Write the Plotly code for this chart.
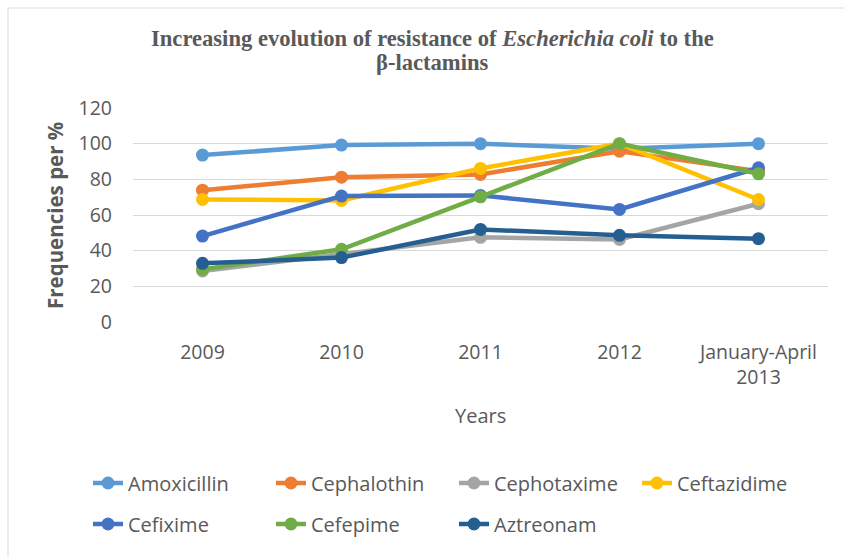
import plotly.graph_objects as go

# Study periods (x categories)
years = ["2009", "2010", "2011", "2012", "January-April<br>2013"]

# Resistance frequencies (%) per antibiotic
amoxicillin = [93.6, 99.2, 100, 97.1, 100]
cephalothin = [73.9, 81.2, 82.7, 95.8, 84.6]
cephotaxime = [28.6, 38.0, 47.5, 46.3, 66.3]
ceftazidime = [68.7, 68.2, 86.1, 100, 68.7]
cefixime = [48.2, 70.6, 71.0, 63.1, 86.5]
cefepime = [29.5, 40.8, 70.2, 100, 83.1]
aztreonam = [32.9, 36.1, 51.9, 48.6, 46.7]

# (name, values, colour, legend row)
series = [
    ("Amoxicillin", amoxicillin, "#5B9BD5", "legend"),
    ("Cephalothin", cephalothin, "#ED7D31", "legend"),
    ("Cephotaxime", cephotaxime, "#A5A5A5", "legend"),
    ("Ceftazidime", ceftazidime, "#FFC000", "legend"),
    ("Cefixime", cefixime, "#4472C4", "legend2"),
    ("Cefepime", cefepime, "#70AD47", "legend2"),
    ("Aztreonam", aztreonam, "#255E91", "legend2"),
]

TEXT = "#595959"
FONT = "Open Sans"

fig = go.Figure()
for name, vals, color, leg in series:
    fig.add_trace(go.Scatter(
        x=years, y=vals, name=name, mode="lines+markers",
        line=dict(color=color, width=4.5),
        marker=dict(color=color, size=13),
        legend=leg,
    ))

W, H = 844, 556
L, R, T, B = 133, 16, 108, 234
pw, ph = W - L - R, H - T - B


def px_x(p):
    return (p - L) / pw


def px_y(p):
    return (H - B - p) / ph


legend_style = dict(
    orientation="h", xanchor="left", yanchor="middle",
    entrywidth=138, entrywidthmode="pixels",
    font=dict(family=FONT, size=20, color=TEXT),
    traceorder="normal", itemclick=False, itemdoubleclick=False,
    bgcolor="rgba(0,0,0,0)",
)

fig.update_layout(
    width=W, height=H,
    margin=dict(l=L, r=R, t=T, b=B, autoexpand=False),
    paper_bgcolor="white", plot_bgcolor="white",
    font=dict(family=FONT, color=TEXT, size=19.5),
    showlegend=True,
    legend=dict(x=px_x(88), y=px_y(483), **legend_style),
    legend2=dict(x=px_x(88), y=px_y(524), **legend_style),
    xaxis=dict(
        type="category", range=[-0.5, len(years) - 0.5],
        showgrid=False, zeroline=False, showline=False,
        ticks="", ticklabelstandoff=16,
        tickfont=dict(family=FONT, size=19.5, color=TEXT),
    ),
    yaxis=dict(
        range=[0, 120], dtick=20, showgrid=True, gridcolor="#D9D9D9", gridwidth=1,
        zeroline=False, showline=False, ticks="", ticklabelstandoff=20,
        tickfont=dict(family=FONT, size=19.5, color=TEXT),
    ),
    shapes=[dict(
        type="rect", xref="paper", yref="paper",
        x0=px_x(8), x1=px_x(860), y0=px_y(570), y1=px_y(8),
        line=dict(color="#D9D9D9", width=1), fillcolor="rgba(0,0,0,0)", layer="below",
    )],
    annotations=[
        dict(
            text="<b>Increasing evolution of resistance of <i>Escherichia coli</i> to the</b>",
            xref="paper", yref="paper", x=px_x(432), y=px_y(39),
            xanchor="center", yanchor="middle", showarrow=False,
            font=dict(family="Liberation Serif", size=22.6, color=TEXT),
        ),
        dict(
            text="<b>β-lactamins</b>",
            xref="paper", yref="paper", x=px_x(432), y=px_y(63),
            xanchor="center", yanchor="middle", showarrow=False,
            font=dict(family="Liberation Serif", size=22.6, color=TEXT),
        ),
        dict(
            text="Years", xref="paper", yref="paper", x=px_x(480), y=px_y(415),
            xanchor="center", yanchor="middle", showarrow=False,
            font=dict(family=FONT, size=20, color=TEXT),
        ),
        dict(
            text="<b>Frequencies per %</b>", textangle=-90,
            xref="paper", yref="paper", x=px_x(55), y=px_y(216),
            xanchor="center", yanchor="middle", showarrow=False,
            font=dict(family=FONT, size=20.5, color=TEXT),
        ),
    ],
)

fig.write_html("out.html")
